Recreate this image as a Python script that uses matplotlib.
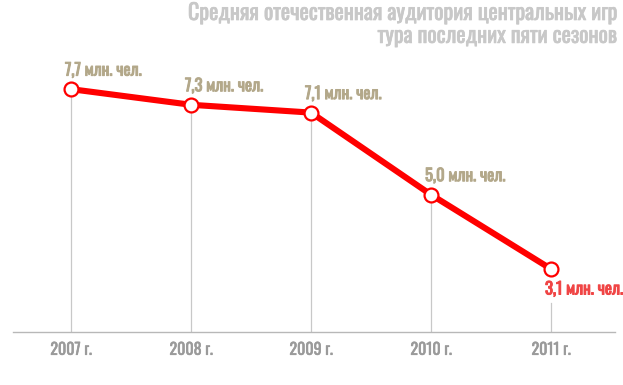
import matplotlib
matplotlib.use("Agg")
import matplotlib.pyplot as plt
import matplotlib.patheffects as pe

# data
years = ["2007 г.", "2008 г.", "2009 г.", "2010 г.", "2011 г."]
audience = [7.7, 7.3, 7.1, 5.0, 3.1]
value_labels = ["7,7 млн. чел.", "7,3 млн. чел.", "7,1 млн. чел.", "5,0 млн. чел.", "3,1 млн. чел."]
title = "Средняя отечественная аудитория центральных игр\nтура последних пяти сезонов"

plt.rcParams['font.family'] = ['Oswald', 'DejaVu Sans']

red = "#ff0000"
beige = "#b3a88a"

def bolder(color, w):
    # oswald only comes in one weight here, thicken the glyphs a bit
    return [pe.withStroke(linewidth=w, foreground=color)]

fig = plt.figure(figsize=(6.23, 3.85), dpi=100)
ax = fig.add_axes([13 / 623, 53.3 / 385, 602 / 623, 1 - 53.3 / 385])
xs = list(range(len(years)))
ylow = 1.496
ax.set_xlim(-0.483, 4.533)
ax.set_ylim(ylow, 9.98)

# vertical guide lines
for i, v in enumerate(audience):
    top = v if i < len(audience) - 1 else v - 0.87
    ax.plot([i, i], [ylow, top], color="#c8c8c8", lw=0.9, zorder=1)

ax.plot(xs, audience, color=red, lw=4.4, solid_capstyle="butt", zorder=2)
ax.plot(xs, audience, "o", ms=10, mfc="white", mec=red, mew=1.6, zorder=3)

for i, (v, lab) in enumerate(zip(audience, value_labels)):
    last = i == len(audience) - 1
    col = "#f04545" if last else beige
    ax.annotate(lab, (i, v), xytext=(-6, -20 if last else 19), textcoords="offset pixels",
                ha="left", va="center", fontsize=12, color=col,
                path_effects=bolder(col, 0.7))

ax.set_xticks(xs)
ax.set_xticklabels(years, fontsize=11.5, color="#9a9a9a")
for t in ax.get_xticklabels():
    t.set_path_effects(bolder("#9a9a9a", 0.4))
ax.tick_params(axis="x", length=0, pad=8)
ax.set_yticks([])
for s in ["top", "right", "left"]:
    ax.spines[s].set_visible(False)
ax.spines["bottom"].set_color("#b8b8b8")
ax.spines["bottom"].set_linewidth(1)

fig.text(617 / 623, 1 - 2 / 385, title, ha="right", va="top", fontsize=15.8,
         color="#c8c8c8", linespacing=1.05, path_effects=bolder("#c8c8c8", 0.5))

fig.savefig("out.png", dpi=100)
